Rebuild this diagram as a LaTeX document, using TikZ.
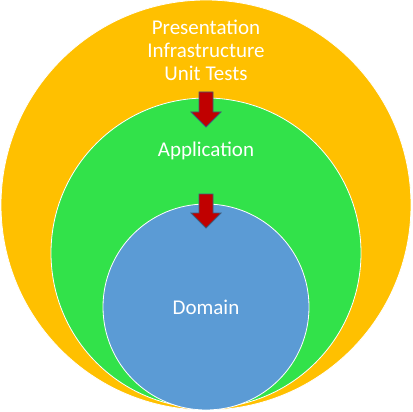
\documentclass[tikz,border=0pt]{standalone}
\usepackage{fontspec}
\setmainfont{Carlito}
\definecolor{outerorange}{RGB}{255,192,0}
\definecolor{midgreen}{RGB}{50,226,74}
\definecolor{coreblue}{RGB}{91,155,213}
\definecolor{arrowred}{RGB}{192,0,0}
\definecolor{arrowedge}{RGB}{65,90,120}
\tikzset{
  ring/.style={circle, draw=white, line width=0.8pt, inner sep=0pt},
  ringtext/.style={text=white, font=\fontsize{21}{23}\selectfont, align=center},
  downarrow/.style={fill=arrowred, draw=arrowedge, line width=0.8pt, line join=miter}
}
\begin{document}
\begin{tikzpicture}[x=1pt,y=-1pt]
\useasboundingbox (0,0) rectangle (413,412);
\node[ring, fill=outerorange, minimum size=410pt] (outer) at (206,205) {};
\node[ring, fill=midgreen, minimum size=310pt] (middle) at (206,253) {};
\node[ring, fill=coreblue, minimum size=206pt] (core) at (206,307) {};
\node[ringtext] (layers) at (206,50) {Presentation\\Infrastructure\\Unit Tests};
\node[ringtext] (app) at (206,151) {Application};
\node[ringtext] (dom) at (206,307) {Domain};
\draw[downarrow]
(199,92)--(213,92)--(213,112)--(221,112)--(206,127)--(191,112)--(199,112)--cycle;
\draw[downarrow]
(199,194)--(213,194)--(213,213)--(221,213)--(206,228)--(191,213)--(199,213)--cycle;
\end{tikzpicture}
\end{document}
